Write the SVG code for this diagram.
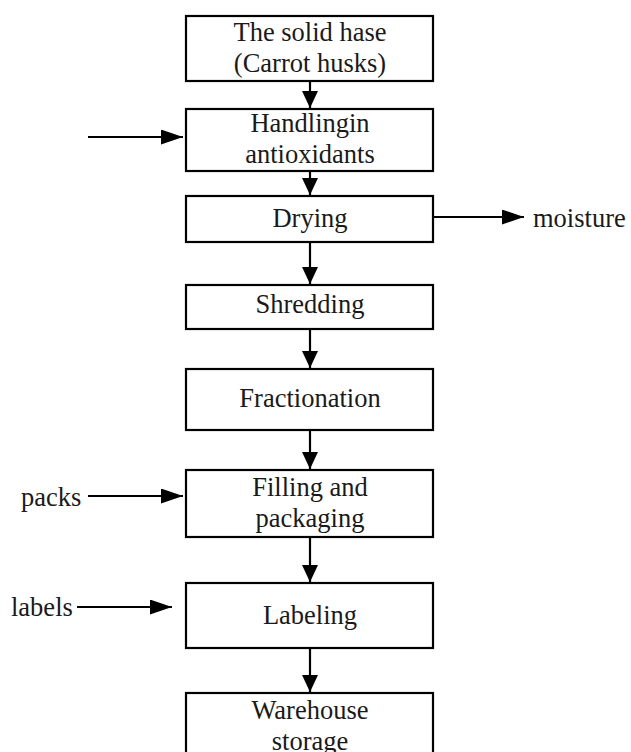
<svg xmlns="http://www.w3.org/2000/svg" width="631" height="752" viewBox="0 0 631 752">
<style>
.box{fill:#fff;stroke:#000;stroke-width:2.2}
.c{stroke:#000;stroke-width:2.2;fill:none;marker-end:url(#av)}
.h{marker-end:url(#ah)}
</style>
<defs>
<marker id="av" viewBox="0 0 17 16" refX="17" refY="8" markerWidth="17" markerHeight="16" markerUnits="userSpaceOnUse" orient="auto">
<path d="M0,0 L17,8 L0,16 Z" fill="#000"/>
</marker>
<marker id="ah" viewBox="0 0 22 15" refX="22" refY="7.5" markerWidth="22" markerHeight="15" markerUnits="userSpaceOnUse" orient="auto">
<path d="M0,0 L22,7.5 L0,15 Z" fill="#000"/>
</marker>
</defs>
<rect width="631" height="752" fill="#fff"/>
<g font-family="Liberation Serif, Times New Roman, serif" font-size="26.5" fill="#1a1a1a" text-anchor="middle">
<g id="n1"><rect class="box" x="186" y="16" width="247" height="65"/><text x="310" y="41">The solid hase</text><text x="310" y="72">(Carrot husks)</text></g>
<g id="n2"><rect class="box" x="186" y="109" width="247" height="62"/><text x="310" y="132">Handlingin</text><text x="310" y="163">antioxidants</text></g>
<g id="n3"><rect class="box" x="186" y="196" width="247" height="46"/><text x="310" y="227">Drying</text></g>
<g id="n4"><rect class="box" x="186" y="285" width="247" height="44"/><text x="310" y="313">Shredding</text></g>
<g id="n5"><rect class="box" x="186" y="369" width="247" height="61"/><text x="310" y="407">Fractionation</text></g>
<g id="n6"><rect class="box" x="186" y="470" width="247" height="67"/><text x="310" y="496">Filling and</text><text x="310" y="527">packaging</text></g>
<g id="n7"><rect class="box" x="186" y="583" width="247" height="65"/><text x="310" y="624">Labeling</text></g>
<g id="n8"><rect class="box" x="186" y="693" width="247" height="70"/><text x="310" y="719">Warehouse</text><text x="310" y="750">storage</text></g>
<g id="labels" text-anchor="start">
<text x="533" y="227">moisture</text>
<text x="21" y="506">packs</text>
<text x="11" y="616">labels</text>
</g>
</g>
<g id="connectors">
<line class="c" x1="310" y1="81" x2="310" y2="108"/>
<line class="c" x1="310" y1="171" x2="310" y2="195"/>
<line class="c" x1="310" y1="242" x2="310" y2="284"/>
<line class="c" x1="310" y1="329" x2="310" y2="368"/>
<line class="c" x1="310" y1="430" x2="310" y2="469"/>
<line class="c" x1="310" y1="537" x2="310" y2="582"/>
<line class="c" x1="310" y1="648" x2="310" y2="692"/>
<line class="c h" x1="88" y1="137" x2="183" y2="137"/>
<line class="c h" x1="433" y1="217" x2="524" y2="217"/>
<line class="c h" x1="88" y1="496" x2="183" y2="496"/>
<line class="c h" x1="77" y1="607" x2="172" y2="607"/>
</g>
</svg>
